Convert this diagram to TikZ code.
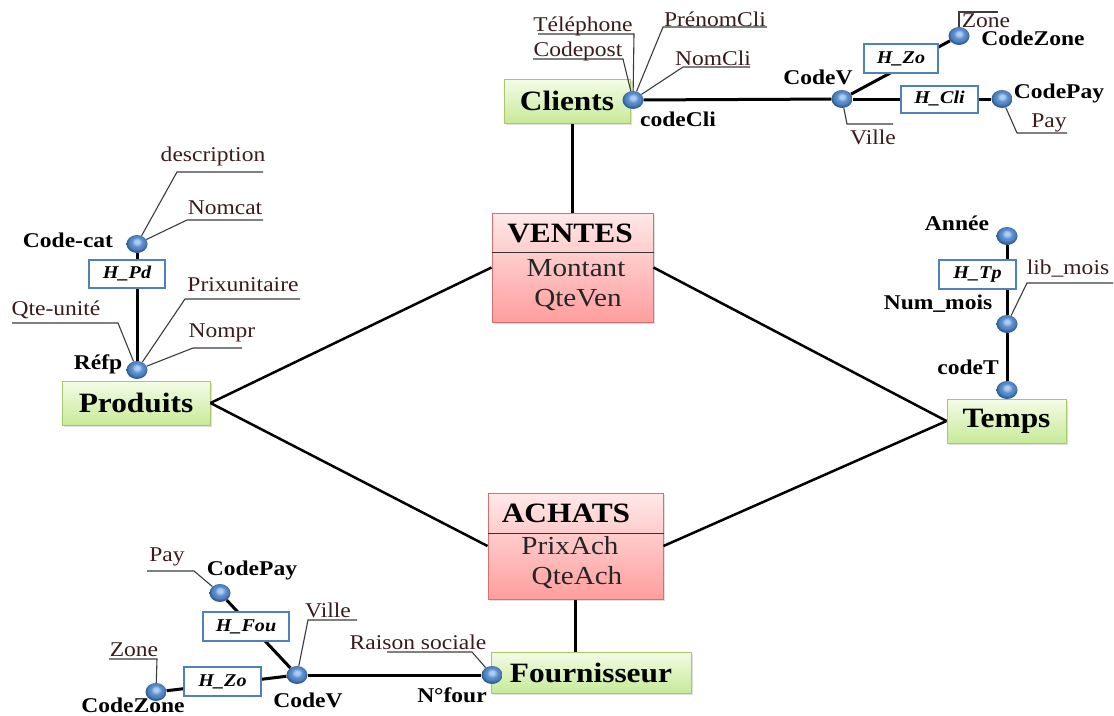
\documentclass[tikz,border=0pt]{standalone}
\usepackage{fontspec}
\setmainfont[FakeStretch=1.12]{Liberation Serif}
\usetikzlibrary{shapes.geometric,shadows}

\definecolor{dotlight}{RGB}{176,205,240}
\definecolor{dotmid}{RGB}{92,143,206}
\definecolor{dotblue}{RGB}{79,129,189}
\definecolor{dotdark}{RGB}{46,92,150}
\definecolor{entborder}{RGB}{166,201,106}
\definecolor{enttop}{RGB}{244,252,230}
\definecolor{entbot}{RGB}{198,234,152}
\definecolor{facttop}{RGB}{255,232,232}
\definecolor{factbot}{RGB}{255,158,158}
\definecolor{factborder}{RGB}{214,112,110}
\definecolor{hierblue}{RGB}{79,129,189}
\definecolor{attrink}{RGB}{58,28,28}
\definecolor{leader}{RGB}{60,60,60}

% glossy blue point with its highlight towards the top
\pgfdeclareradialshading{levelball}{\pgfpoint{0bp}{7bp}}{%
  color(0bp)=(dotlight); color(5bp)=(dotlight); color(13bp)=(dotmid);
  color(19bp)=(dotblue); color(25bp)=(dotdark); color(50bp)=(dotdark)}

\newcommand{\fsz}[1]{\fontsize{#1}{#1}\selectfont}

\tikzset{
  entity/.style={rectangle, draw=entborder, line width=1pt, top color=enttop,
    bottom color=entbot, inner sep=0pt, font=\fsz{28}\bfseries,
    drop shadow={shadow xshift=2pt, shadow yshift=-2pt, opacity=0.25}},
  fact/.style={rectangle, draw=factborder, line width=1pt, top color=facttop,
    bottom color=factbot, inner sep=0pt,
    drop shadow={shadow xshift=2pt, shadow yshift=-2pt, opacity=0.25}},
  facttitle/.style={font=\fsz{28}\bfseries, inner sep=0pt},
  measure/.style={font=\fsz{26}, text=black!85, inner sep=0pt},
  dot/.style={ellipse, minimum width=21pt, minimum height=18pt, inner sep=0pt,
    shading=levelball},
  lvl/.style={font=\fsz{21}\bfseries, inner sep=0pt},
  attr/.style={font=\fsz{21}, text=attrink, inner sep=0pt},
  hier/.style={rectangle, draw=hierblue, line width=2pt, fill=white,
    inner sep=0pt, font=\fsz{18}\bfseries\itshape},
  hline/.style={line width=3pt, black},
  link/.style={line width=2.5pt, black},
  leaderline/.style={line width=1.1pt, leader},
  sepline/.style={line width=1pt, black!80},
}

\begin{document}
\begin{tikzpicture}[x=1pt, y=-1pt]
\fill[white] (0,0) rectangle (1114,715);
\useasboundingbox (0,0) rectangle (1114,715);

% ---------- entities ----------
\node[entity, minimum width=126pt, minimum height=44pt] (cli) at (567,101) {Clients};
\node[entity, minimum width=148pt, minimum height=44pt] (prod) at (136,403) {Produits};
\node[entity, minimum width=119pt, minimum height=44pt] (tem) at (1006.5,421) {Temps};
\node[entity, minimum width=200pt, minimum height=41pt] (fou) at (591,672.5) {Fournisseur};

% ---------- facts ----------
\node[fact, minimum width=161pt, minimum height=109pt] (ven) at (572.5,267.5) {};
\draw[sepline] (ven.west |- 0,252) -- (ven.east |- 0,252);
\node[facttitle] (venT) at (570,233) {VENTES};
\node[measure] (venM1) at (576,268) {Montant};
\node[measure] (venM2) at (578,300) {QteVen};

\node[fact, minimum width=175pt, minimum height=106pt] (ach) at (575.5,546) {};
\draw[sepline] (ach.west |- 0,533) -- (ach.east |- 0,533);
\node[facttitle] (achT) at (566,513) {ACHATS};
\node[measure] (achM1) at (570,546) {PrixAch};
\node[measure] (achM2) at (577,578) {QteAch};

% ---------- fact links ----------
\draw[link] (ven.north) -- (ven.north |- cli.south);
\draw[link] (ven.west) -- (prod.east);
\draw[link] (prod.east) -- (ach.west);
\draw[link] (ven.east) -- (tem.west);
\draw[link] (ach.east) -- (tem.west);
\draw[link] (ach.south) -- (ach.south |- fou.north);

% ---------- level points ----------
\node[dot] (dcli) at (633,100) {};
\node[dot] (dcv1) at (842,99) {};
\node[dot] (dcz1) at (959,36) {};
\node[dot] (dcp1) at (1002,99) {};

\node[dot] (dcat) at (137,244) {};
\node[dot] (dref) at (137,370) {};

\node[dot] (dan) at (1007,236) {};
\node[dot] (dnm) at (1007,324) {};
\node[dot] (dct) at (1007,390) {};

\node[dot] (dcp2) at (220,593) {};
\node[dot] (dcv2) at (297,675) {};
\node[dot] (dnf) at (492,675) {};
\node[dot] (dcz2) at (156,692) {};

% ---------- hierarchy lines ----------
\draw[hline] (dcli) -- (dcv1);
\draw[hline] (dcv1) -- (dcz1);
\draw[hline] (dcv1) -- (dcp1);
\draw[hline] (dcat) -- (dref);
\draw[hline] (dan) -- (dnm);
\draw[hline] (dnm) -- (dct);
\draw[hline] (dcp2) -- (dcv2);
\draw[hline] (dcz2) -- (dcv2);
\draw[hline] (dcv2) -- (dnf);

% ---------- hierarchy names ----------
\node[hier, minimum width=74pt, minimum height=29pt] (hzo1) at (901,58.5) {H\_Zo};
\node[hier, minimum width=77pt, minimum height=27pt] (hcli) at (939.5,99) {H\_Cli};
\node[hier, minimum width=76pt, minimum height=28pt] (hpd) at (127,274) {H\_Pd};
\node[hier, minimum width=77pt, minimum height=29pt] (htp) at (977.5,274.5) {H\_Tp};
\node[hier, minimum width=86pt, minimum height=29pt] (hfou) at (246,626.5) {H\_Fou};
\node[hier, minimum width=77pt, minimum height=29pt] (hzo2) at (222.5,681.5) {H\_Zo};

% ---------- attribute leaders ----------
\coordinate (telB) at (634,34);  \coordinate (telE) at (538,34);
\coordinate (cpoB) at (623,59);  \coordinate (cpoE) at (533,59);
\coordinate (preB) at (663,27);  \coordinate (preE) at (767,27);
\coordinate (nomB) at (683,67);  \coordinate (nomE) at (750,67);
\coordinate (vi1B) at (847,124); \coordinate (vi1E) at (893,124);
\coordinate (zo1B) at (959,12);  \coordinate (zo1E) at (998,12);
\coordinate (pa1B) at (1017,133);\coordinate (pa1E) at (1067,133);
\coordinate (desB) at (177,172); \coordinate (desE) at (263,172);
\coordinate (ncaB) at (187,220); \coordinate (ncaE) at (263,220);
\coordinate (pxuB) at (185,299); \coordinate (pxuE) at (300,299);
\coordinate (nprB) at (193,348); \coordinate (nprE) at (242,348);
\coordinate (qteB) at (118,323); \coordinate (qteE) at (12,323);
\coordinate (libB) at (1027,283);\coordinate (libE) at (1113,283);
\coordinate (pa2B) at (194,571); \coordinate (pa2E) at (147,571);
\coordinate (vi2B) at (308,620); \coordinate (vi2E) at (357,620);
\coordinate (zo2B) at (157,659); \coordinate (zo2E) at (109,659);
\coordinate (rsoB) at (472,652); \coordinate (rsoE) at (387,652);

\draw[leaderline] (dcli) -- (telB) -- (telE);
\draw[leaderline] (dcli) -- (cpoB) -- (cpoE);
\draw[leaderline] (dcli) -- (preB) -- (preE);
\draw[leaderline] (dcli) -- (nomB) -- (nomE);
\draw[leaderline] (dcv1) -- (vi1B) -- (vi1E);
\draw[leaderline] (dcz1) -- (zo1B) -- (zo1E);
\draw[leaderline] (dcp1) -- (pa1B) -- (pa1E);
\draw[leaderline] (dcat) -- (desB) -- (desE);
\draw[leaderline] (dcat) -- (ncaB) -- (ncaE);
\draw[leaderline] (dref) -- (pxuB) -- (pxuE);
\draw[leaderline] (dref) -- (nprB) -- (nprE);
\draw[leaderline] (dref) -- (qteB) -- (qteE);
\draw[leaderline] (dnm) -- (libB) -- (libE);
\draw[leaderline] (dcp2) -- (pa2B) -- (pa2E);
\draw[leaderline] (dcv2) -- (vi2B) -- (vi2E);
\draw[leaderline] (dcz2) -- (zo2B) -- (zo2E);
\draw[leaderline] (dnf) -- (rsoB) -- (rsoE);

% ---------- attribute names ----------
\node[attr] (tTel) at (583,26) {Téléphone};
\node[attr] (tCpo) at (578,51) {Codepost};
\node[attr] (tPre) at (715,19) {PrénomCli};
\node[attr] (tNom) at (713,58) {NomCli};
\node[attr] (tVi1) at (873,137) {Ville};
\node[attr] (tZo1) at (986,21) {Zone};
\node[attr] (tPa1) at (1049,123) {Pay};
\node[attr] (tDes) at (213,156) {description};
\node[attr] (tNca) at (225,208) {Nomcat};
\node[attr] (tPxu) at (243,285) {Prixunitaire};
\node[attr] (tNpr) at (222,333) {Nompr};
\node[attr] (tQte) at (56,310) {Qte-unité};
\node[attr] (tLib) at (1068,269) {lib\_mois};
\node[attr] (tPa2) at (167,557) {Pay};
\node[attr] (tVi2) at (328,610) {Ville};
\node[attr] (tZo2) at (134,650) {Zone};
\node[attr] (tRso) at (418,642) {Raison sociale};

% ---------- level names ----------
\node[lvl] (lCli) at (678,119) {codeCli};
\node[lvl] (lCv1) at (818,77) {CodeV};
\node[lvl] (lCz1) at (1033,38) {CodeZone};
\node[lvl] (lCp1) at (1059,93) {CodePay};
\node[lvl] (lCat) at (68,240) {Code-cat};
\node[lvl] (lRef) at (98,364) {Réfp};
\node[lvl] (lAn) at (957,223) {Année};
\node[lvl] (lNm) at (938,304) {Num\_mois};
\node[lvl] (lCt) at (968,367) {codeT};
\node[lvl] (lCp2) at (252,570) {CodePay};
\node[lvl] (lCv2) at (308,700) {CodeV};
\node[lvl] (lCz2) at (133,705) {CodeZone};
\node[lvl] (lNf) at (452,695) {N°four};
\end{tikzpicture}
\end{document}
